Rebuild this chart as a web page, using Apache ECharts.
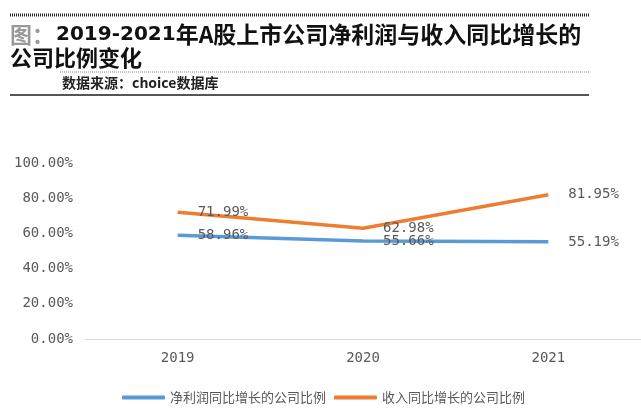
<!DOCTYPE html>
<html><head><meta charset="utf-8">
<script src="https://cdn.jsdelivr.net/npm/echarts@6/dist/echarts.min.js"></script>
<style>html,body{margin:0;padding:0;background:#fff;}#c{width:641px;height:418px;}</style>
</head><body><div id="c"></div>
<script>
const categories = ['2019', '2020', '2021'];
const seriesNames = ['净利润同比增长的公司比例', '收入同比增长的公司比例'];
const profitRatio = [0.5896, 0.5566, 0.5519];
const revenueRatio = [0.7199, 0.6298, 0.8195];
const yTicks = [0, 0.2, 0.4, 0.6, 0.8, 1.0];

const chart = echarts.init(document.getElementById('c'));
const mono = '"DejaVu Sans Mono", "Liberation Mono", monospace';
const cjk = '"Noto Sans CJK SC", "Noto Sans", sans-serif';
const pct = v => (v * 100).toFixed(2) + '%';

chart.setOption({
  animation: false,
  color: ['#5B9BD5', '#ED7D31'],
  graphic: [
    { type: 'line', shape: { x1: 10, y1: 15, x2: 589, y2: 15 }, style: { stroke: '#222', lineWidth: 3, lineDash: [1, 1] } },
    { type: 'text', left: 10, top: 23, style: {
        text: '{g|图：}{d|2019-2021}{t|年A股上市公司净利润与收入同比增长的}',
        rich: {
          g: { font: 'bold 22px ' + cjk, fill: '#999', width: 46 },
          d: { font: 'bold 20px "DejaVu Sans", sans-serif', fill: '#111' },
          t: { font: 'bold 23px ' + cjk, fill: '#111' }
        } } },
    { type: 'text', left: 10, top: 47, style: { text: '公司比例变化', font: 'bold 22px ' + cjk, fill: '#111' } },
    { type: 'line', shape: { x1: 60, y1: 72, x2: 589, y2: 72 }, style: { stroke: '#888', lineWidth: 1, lineDash: [1, 1] } },
    { type: 'text', left: 62, top: 76, style: { text: '数据来源：choice数据库', font: 'bold 14px ' + cjk, fill: '#222' } },
    { type: 'line', shape: { x1: 10, y1: 95, x2: 589, y2: 95 }, style: { stroke: '#555', lineWidth: 2 } }
  ],
  grid: { left: 85, right: 0, top: 163, bottom: 79 },
  legend: {
    left: 117, top: 386,
    icon: 'roundRect', itemWidth: 43, itemHeight: 4, itemGap: 8,
    textStyle: { fontFamily: cjk, fontSize: 13, color: '#595959' },
    data: seriesNames
  },
  xAxis: {
    type: 'category', data: categories, boundaryGap: true,
    axisLine: { lineStyle: { color: '#d9d9d9', width: 1 } },
    axisTick: { show: false },
    axisLabel: { fontFamily: mono, fontSize: 14, color: '#595959', margin: 12 }
  },
  yAxis: {
    type: 'value', min: 0, max: 1, interval: 0.2,
    axisLine: { show: false }, axisTick: { show: false },
    splitLine: { show: false },
    axisLabel: { fontFamily: mono, fontSize: 14, color: '#595959', margin: 12, formatter: v => yTicks.includes(+v.toFixed(2)) ? pct(v) : '' }
  },
  series: [
    { name: seriesNames[0], type: 'line', data: profitRatio, symbol: 'circle', symbolSize: 0, showSymbol: true, lineStyle: { width: 3.5 },
      label: { show: true, position: 'right', distance: 20, formatter: p => pct(p.value), fontFamily: mono, fontSize: 14, color: '#595959' } },
    { name: seriesNames[1], type: 'line', data: revenueRatio, symbol: 'circle', symbolSize: 0, showSymbol: true, lineStyle: { width: 3.5 },
      label: { show: true, position: 'right', distance: 20, formatter: p => pct(p.value), fontFamily: mono, fontSize: 14, color: '#595959' } }
  ]
});
</script></body></html>
